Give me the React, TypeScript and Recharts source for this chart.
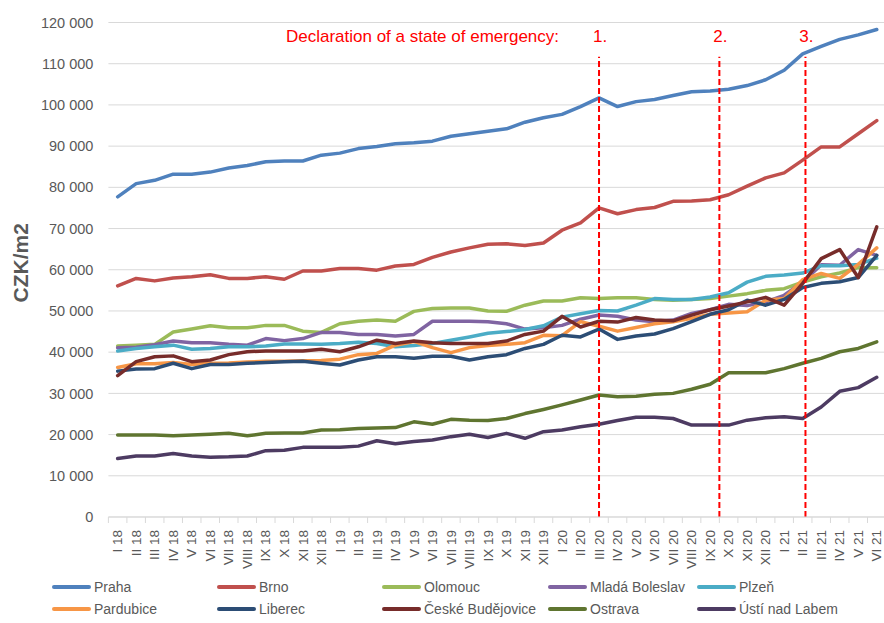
import React from "react";
import { LineChart, Line, XAxis, YAxis, CartesianGrid, ReferenceLine } from "recharts";

const labels = [
  "I 18", "II 18", "III 18", "IV 18", "V 18", "VI 18", "VII 18", "VIII 18", "IX 18", "X 18", "XI 18", "XII 18",
  "I 19", "II 19", "III 19", "IV 19", "V 19", "VI 19", "VII 19", "VIII 19", "IX 19", "X 19", "XI 19", "XII 19",
  "I 20", "II 20", "III 20", "IV 20", "V 20", "VI 20", "VII 20", "VIII 20", "IX 20", "X 20", "XI 20", "XII 20",
  "I 21", "II 21", "III 21", "IV 21", "V 21", "VI 21",
];

const praha = [77700, 80900, 81700, 83200, 83200, 83700, 84700, 85300, 86200, 86400, 86400, 87800, 88300, 89400, 89900, 90600, 90800, 91200, 92400, 93000, 93600, 94200, 95800, 96900, 97700, 99600, 101700, 99600, 100800, 101300, 102300, 103200, 103400, 103800, 104700, 106100, 108400, 112400, 114200, 115900, 117000, 118300];
const brno = [56100, 57900, 57300, 58000, 58300, 58800, 57900, 57900, 58300, 57700, 59700, 59700, 60300, 60300, 59900, 60900, 61300, 63000, 64300, 65300, 66200, 66300, 65900, 66500, 69600, 71400, 75000, 73600, 74600, 75100, 76600, 76700, 77000, 78200, 80300, 82300, 83500, 86600, 89800, 89800, 93000, 96200];
const olomouc = [41500, 41700, 41900, 44900, 45600, 46400, 45900, 45900, 46500, 46500, 45100, 44800, 46900, 47500, 47800, 47500, 49900, 50600, 50700, 50700, 50000, 49900, 51400, 52400, 52400, 53200, 53000, 53200, 53200, 52800, 52600, 52800, 53000, 53600, 54200, 55000, 55400, 57000, 58300, 59200, 60500, 60500];
const boleslav = [41100, 41200, 41800, 42700, 42300, 42300, 41900, 41700, 43300, 42800, 43300, 44800, 44800, 44300, 44300, 43900, 44300, 47500, 47500, 47500, 47400, 46900, 45600, 45900, 46500, 48000, 49000, 48700, 47800, 47400, 47800, 49400, 50300, 51600, 51300, 52200, 53800, 57000, 61200, 61100, 64900, 63500];
const plzen = [40300, 40900, 41300, 41700, 40700, 40900, 41300, 41300, 41500, 42000, 42000, 41900, 42100, 42400, 42100, 41300, 41600, 42100, 42900, 43700, 44600, 45000, 45500, 46400, 48500, 49300, 50100, 50000, 51400, 53000, 52800, 52800, 53400, 54400, 57000, 58400, 58700, 59200, 61000, 61000, 61300, 62800];
const pardubice = [36300, 37200, 37200, 37500, 37000, 37300, 37400, 37600, 37800, 37800, 37900, 38000, 38300, 39400, 39700, 41700, 42600, 41100, 39900, 41100, 41600, 41900, 42300, 44100, 44000, 47400, 46300, 45100, 46000, 46900, 47400, 48200, 49200, 49500, 49800, 52600, 53000, 57600, 59100, 57900, 61300, 65300];
const liberec = [35400, 35900, 36000, 37300, 36000, 37000, 37000, 37300, 37500, 37700, 37800, 37300, 36900, 38100, 38900, 38900, 38500, 39000, 39000, 38100, 38900, 39400, 40900, 41900, 44100, 43700, 45600, 43100, 43900, 44400, 45700, 47400, 49200, 50300, 52600, 51400, 52800, 55700, 56700, 57100, 58100, 63500];
const budejovice = [34300, 37700, 38900, 39100, 37700, 38100, 39400, 40100, 40300, 40300, 40300, 40700, 40100, 41300, 42900, 42100, 42700, 42300, 42100, 42100, 42100, 42700, 44300, 45100, 48700, 46100, 47500, 47300, 48400, 47800, 47600, 49000, 50300, 51200, 52200, 53300, 51400, 56700, 62700, 64900, 58100, 70400];
const ostrava = [19900, 19900, 19900, 19700, 19900, 20100, 20300, 19700, 20300, 20400, 20400, 21100, 21200, 21500, 21600, 21700, 23100, 22500, 23700, 23500, 23400, 23900, 25100, 26100, 27200, 28400, 29600, 29200, 29300, 29800, 30000, 31000, 32200, 35000, 35000, 35000, 36000, 37300, 38500, 40100, 40900, 42500];
const usti = [14200, 14800, 14800, 15400, 14800, 14500, 14600, 14800, 16100, 16200, 16900, 16900, 16900, 17200, 18500, 17800, 18300, 18700, 19500, 20100, 19300, 20300, 19100, 20700, 21100, 21900, 22500, 23400, 24200, 24200, 23900, 22300, 22300, 22300, 23500, 24100, 24300, 23900, 26700, 30500, 31400, 33900];

const yTicks = [0, 10000, 20000, 30000, 40000, 50000, 60000, 70000, 80000, 90000, 100000, 110000, 120000];

// emergency declarations, in category units
const events = [
  { at: 26, label: "1." },
  { at: 32.5, label: "2." },
  { at: 37.15, label: "3." },
];
const eventTop = 111700;
const eventNote = "Declaration of a state of emergency:";

const series = [
  { key: "Praha", values: praha, color: "#4F81BD" },
  { key: "Brno", values: brno, color: "#C0504D" },
  { key: "Olomouc", values: olomouc, color: "#9BBB59" },
  { key: "Mladá Boleslav", values: boleslav, color: "#8064A2" },
  { key: "Plzeň", values: plzen, color: "#4BACC6" },
  { key: "Pardubice", values: pardubice, color: "#F79646" },
  { key: "Liberec", values: liberec, color: "#2C4D75" },
  { key: "České Budějovice", values: budejovice, color: "#772C2A" },
  { key: "Ostrava", values: ostrava, color: "#5F7530" },
  { key: "Ústí nad Labem", values: usti, color: "#4D3B62" },
];

const data = labels.map((label, i) => {
  const row: Record<string, number | string> = { idx: i, label };
  series.forEach((s) => (row[s.key] = s.values[i]));
  return row;
});

const FONT = "'Liberation Sans', Arial, sans-serif";
const GREY = "#595959";
const CHART_W = 890;
const CHART_H = 623;
const Y_W = 108.4;
const MARGIN = { top: 22.5, right: 4, bottom: 0, left: 0 };
const BAND = (CHART_W - MARGIN.right - Y_W) / labels.length;

const fmt = (v: number) => String(v).replace(/\B(?=(\d{3})+(?!\d))/g, " ");

const XTick = (props: any) => {
  const { x, y, payload } = props;
  const axisY = y - 13;
  return (
    <g>
      <line x1={x - BAND / 2} x2={x - BAND / 2} y1={axisY} y2={axisY + 6} stroke="#D9D9D9" />
      <text
        x={x}
        y={y}
        dy="0.35em"
        transform={`rotate(-90, ${x}, ${y})`}
        textAnchor="end"
        fill={GREY}
        fontSize={13.5}
        fontFamily={FONT}
      >
        {labels[payload.value]}
      </text>
    </g>
  );
};

const YTitle = (props: any) => {
  const { viewBox } = props;
  const x = 21;
  const y = viewBox.y + viewBox.height / 2 - 7;
  return (
    <text
      x={x}
      y={y}
      dy="0.35em"
      transform={`rotate(-90, ${x}, ${y})`}
      textAnchor="middle"
      fill={GREY}
      fontSize={21}
      fontWeight="bold"
      fontFamily={FONT}
    >
      CZK/m2
    </text>
  );
};

const EventLabel = (props: any) => {
  const { viewBox, text, note } = props;
  const x = viewBox.x;
  const y = viewBox.y - 21;
  return (
    <g fontFamily={FONT} fontSize={17} fill="#FF0000">
      {note && (
        <text x={x - 40} y={y} dy="0.35em" textAnchor="end">
          {note}
        </text>
      )}
      <text x={x + 1} y={y} dy="0.35em" textAnchor="middle">
        {text}
      </text>
    </g>
  );
};

const legendCols = [52, 217, 382, 548, 697];
const legendRows = [587, 609];

export default function App() {
  return (
    <div style={{ position: "absolute", left: 0, top: 0, width: 884, height: CHART_H, overflow: "hidden", background: "#fff" }}>
      <LineChart width={CHART_W} height={CHART_H} data={data} margin={MARGIN}>
        <CartesianGrid vertical={false} stroke="#D9D9D9" />
        <XAxis
          dataKey="idx"
          type="number"
          domain={[-0.5, labels.length - 0.5]}
          ticks={labels.map((_, i) => i)}
          interval={0}
          height={106}
          axisLine={{ stroke: "#D9D9D9" }}
          tickLine={false}
          tickSize={6}
          tickMargin={7}
          tick={<XTick />}
        />
        <YAxis
          width={Y_W}
          domain={[0, 120000]}
          ticks={yTicks}
          interval={0}
          axisLine={false}
          tickLine={false}
          tickSize={0}
          tickMargin={15}
          tickFormatter={fmt}
          tick={{ fill: GREY, fontSize: 14.5, fontFamily: FONT }}
          label={<YTitle />}
        />
        {series.map((s) => (
          <Line
            key={s.key}
            type="linear"
            dataKey={s.key}
            stroke={s.color}
            strokeWidth={3.5}
            strokeLinejoin="round"
            strokeLinecap="round"
            dot={false}
            isAnimationActive={false}
          />
        ))}
        {events.map((e, i) => (
          <ReferenceLine
            key={e.label}
            segment={[
              { x: e.at, y: 0 },
              { x: e.at, y: eventTop },
            ]}
            stroke="#FF0000"
            strokeWidth={2}
            strokeDasharray="6 3"
            label={<EventLabel text={e.label} note={i === 0 ? eventNote : undefined} />}
          />
        ))}
      </LineChart>
      {series.map((s, i) => (
        <div
          key={s.key}
          style={{
            position: "absolute",
            left: legendCols[i % 5],
            top: legendRows[Math.floor(i / 5)] - 10,
            height: 20,
            display: "flex",
            alignItems: "center",
            fontFamily: FONT,
            fontSize: 14,
            color: GREY,
            whiteSpace: "nowrap",
          }}
        >
          <span style={{ display: "inline-block", width: 39, height: 4, borderRadius: 2, background: s.color, marginRight: 3 }} />
          {s.key}
        </div>
      ))}
    </div>
  );
}
